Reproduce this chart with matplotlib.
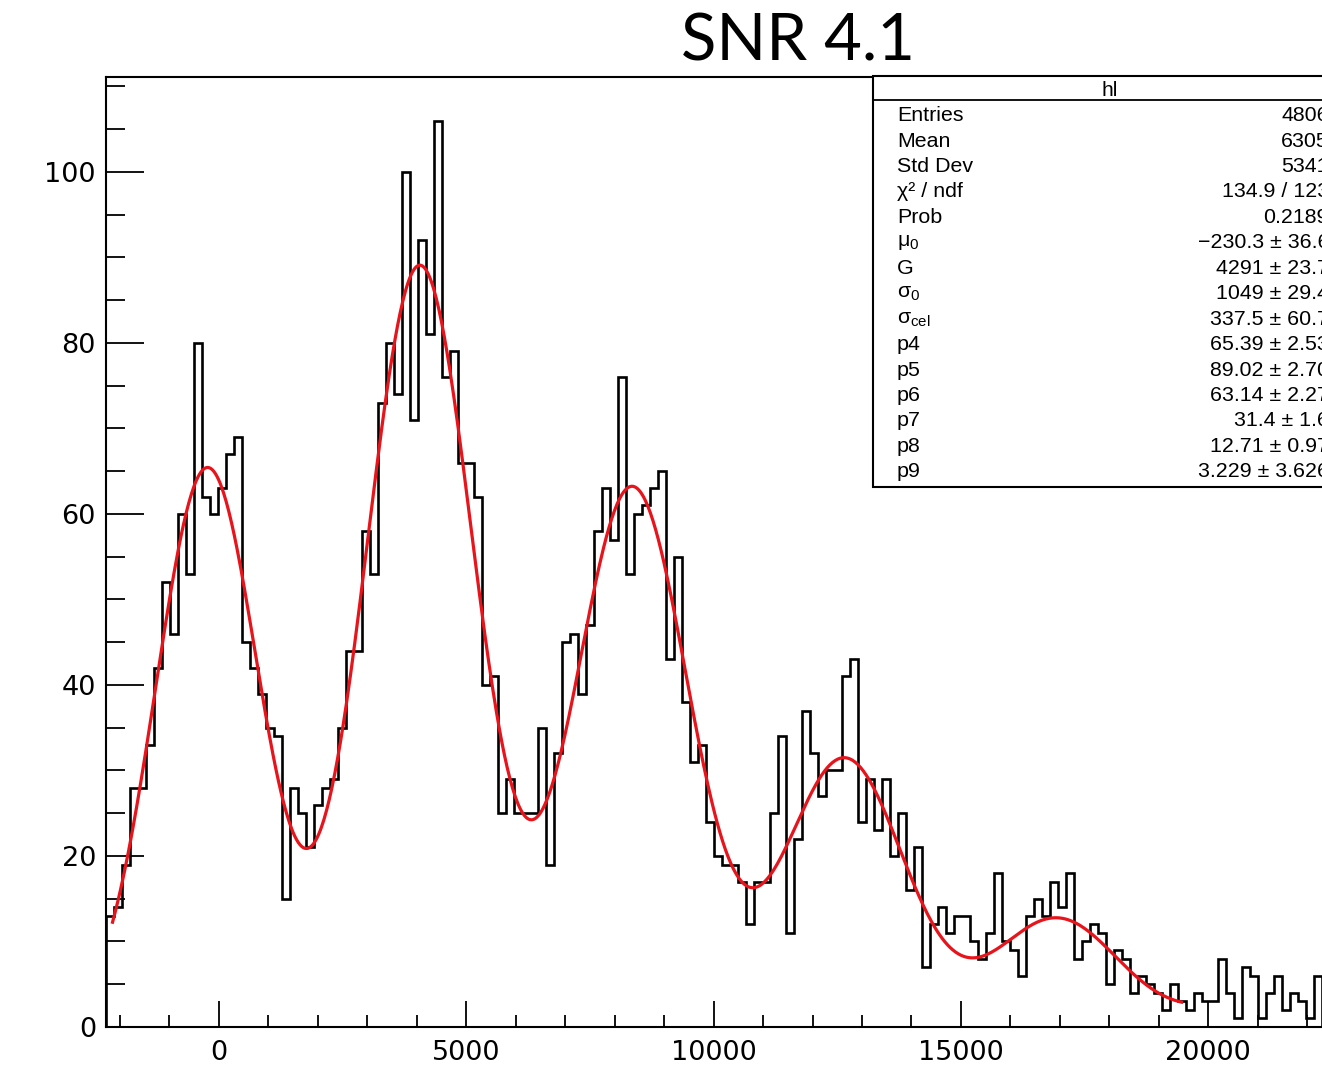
import numpy as np
import matplotlib
matplotlib.use("Agg")
import matplotlib.pyplot as plt
from matplotlib.patches import Rectangle
from matplotlib.lines import Line2D
from matplotlib.ticker import MultipleLocator

plt.rcParams['font.family'] = ['Liberation Sans', 'DejaVu Sans']
plt.rcParams['mathtext.fontset'] = 'custom'
plt.rcParams['mathtext.rm'] = 'Liberation Sans'
plt.rcParams['mathtext.it'] = 'Liberation Sans'

# histogram: first bin edge, bin width, counts per bin
x_low = -2288.0
bin_width = 161.7
counts = [13, 14, 19, 28, 28, 33, 42, 52, 46, 60,
          53, 80, 62, 60, 63, 67, 69, 45, 42, 39,
          35, 34, 15, 28, 25, 21, 26, 28, 29, 35,
          44, 44, 58, 53, 73, 80, 74, 100, 71, 92,
          81, 106, 76, 79, 66, 66, 62, 40, 41, 25,
          29, 25, 25, 25, 35, 19, 32, 45, 46, 39,
          47, 58, 63, 57, 76, 53, 60, 61, 63, 65,
          43, 55, 38, 31, 33, 24, 20, 19, 19, 17,
          12, 17, 17, 25, 34, 11, 22, 37, 32, 27,
          30, 30, 41, 43, 24, 29, 23, 29, 20, 25,
          16, 21, 7, 12, 14, 11, 13, 13, 10, 8,
          11, 18, 10, 9, 6, 13, 15, 13, 17, 14,
          18, 8, 10, 12, 11, 5, 9, 8, 4, 6,
          5, 4, 2, 5, 3, 2, 4, 3, 3, 8,
          4, 1, 7, 6, 1, 4, 6, 2, 4, 3,
          1, 6]

# fit parameters from the stats box
mu0 = -230.3
gain = 4291.0
sigma0 = 1049.0
sigma_cel = 337.5
amps = [65.39, 89.02, 63.14, 31.4, 12.71, 3.229]
fit_range = (-2150, 19460)

stat_labels = ["Entries", "Mean", "Std Dev", "\u03c7\u00b2 / ndf", "Prob",
               r"$\mathrm{\mu}_{0}$", "G", r"$\mathrm{\sigma}_{0}$",
               r"$\mathrm{\sigma}_{cel}$", "p4", "p5", "p6", "p7", "p8", "p9"]
stat_values = ["4806", "6305", "5341", "134.9 / 123", "0.2189",
               "\u2212230.3 \u00b1 36.6", "4291 \u00b1 23.7", "1049 \u00b1 29.4",
               "337.5 \u00b1 60.7", "65.39 \u00b1 2.53", "89.02 \u00b1 2.70",
               "63.14 \u00b1 2.27", "31.4 \u00b1 1.6", "12.71 \u00b1 0.97",
               "3.229 \u00b1 3.626"]

W, H = 1322, 1074
fig = plt.figure(figsize=(W / 100, H / 100), dpi=100)
fig.patch.set_facecolor('white')

def fx(px):
    return px / W

def fy(py):
    return 1 - py / H

# axes frame: left 105.7 px, bottom 1027 px, top 77 px, right past the edge
ax = fig.add_axes([fx(105.7), fy(1027), fx(1340) - fx(105.7), fy(77) - fy(1027)])
x_high = x_low + (1340 - 105.7) / 49.47 * 1000
ax.set_xlim(x_low, x_high)
ax.set_ylim(0, 111.1)

edges = x_low + bin_width * np.arange(len(counts) + 1)
ax.stairs(counts, edges, color='black', lw=1.9, baseline=0)

xf = np.linspace(fit_range[0], fit_range[1], 800)
yf = np.zeros_like(xf)
for k, a in enumerate(amps):
    s = np.sqrt(sigma0 ** 2 + k * sigma_cel ** 2)
    yf += a * np.exp(-0.5 * ((xf - (mu0 + k * gain)) / s) ** 2)
ax.plot(xf, yf, color='#e8141c', lw=2.3, zorder=3)

for sp in ax.spines.values():
    sp.set_linewidth(1.5)
ax.xaxis.set_major_locator(MultipleLocator(5000))
ax.xaxis.set_minor_locator(MultipleLocator(1000))
ax.yaxis.set_major_locator(MultipleLocator(20))
ax.yaxis.set_minor_locator(MultipleLocator(5))
ax.tick_params(axis='both', which='both', direction='in', width=1.3)
ax.tick_params(axis='x', which='major', length=19, labelsize=19.5, pad=9)
ax.tick_params(axis='x', which='minor', length=9)
ax.tick_params(axis='y', which='major', length=27, labelsize=19.5, pad=7)
ax.tick_params(axis='y', which='minor', length=14)
for lab in ax.get_xticklabels() + ax.get_yticklabels():
    lab.set_family(['DejaVu Sans'])

# title
fig.text(fx(798), fy(42), "SNR 4.1", family=['Lato', 'DejaVu Sans'],
         fontsize=47, ha='center', va='center')

# stats box
box = Rectangle((fx(872.7), fy(486.7)), fx(1360) - fx(872.7), fy(76) - fy(486.7),
                transform=fig.transFigure, facecolor='white', edgecolor='black',
                lw=1.5, zorder=5)
fig.add_artist(box)
fig.add_artist(Line2D([fx(872.7), fx(1360)], [fy(100.5), fy(100.5)],
                      transform=fig.transFigure, color='black', lw=1.3, zorder=6))
fig.text(fx(1110), fy(91), "hl", fontsize=15, ha='center', va='center', zorder=7)

for i, (lab, val) in enumerate(zip(stat_labels, stat_values)):
    yc = 115.7 + 25.43 * i
    fig.text(fx(897), fy(yc), lab, fontsize=15.4, ha='left', va='center', zorder=7)
    fig.text(fx(1329), fy(yc), val, fontsize=15.4, ha='right', va='center', zorder=7)

fig.savefig("out.png", dpi=100)
